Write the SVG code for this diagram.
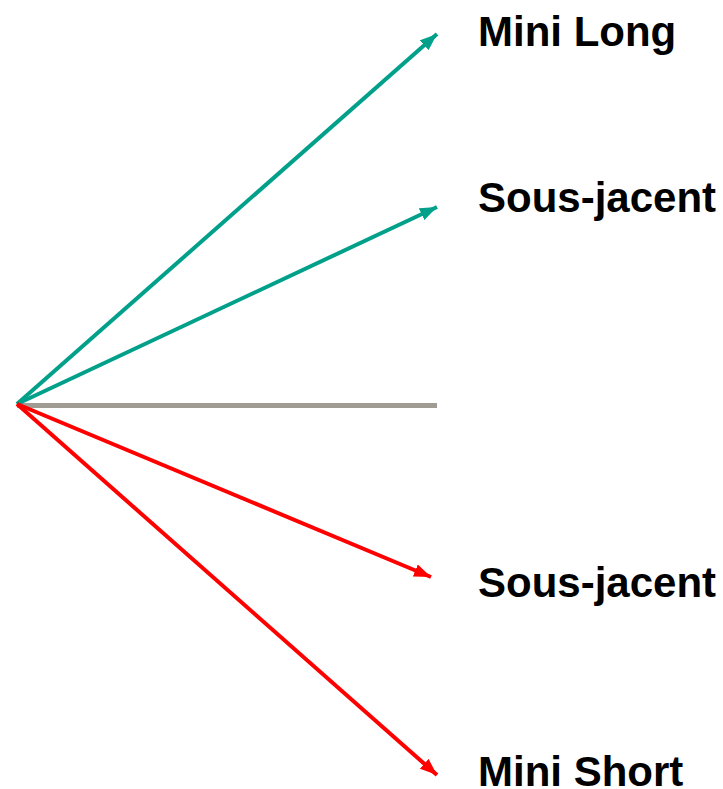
<svg xmlns="http://www.w3.org/2000/svg" width="723" height="789" viewBox="0 0 723 789">
<defs>
<marker id="ah-teal" viewBox="0 0 17 13" refX="17" refY="6.5" markerWidth="17" markerHeight="13" markerUnits="userSpaceOnUse" orient="auto"><path d="M0,0 L17,6.5 L0,13 Z" fill="#00A08A"/></marker>
<marker id="ah-red" viewBox="0 0 17 13" refX="17" refY="6.5" markerWidth="17" markerHeight="13" markerUnits="userSpaceOnUse" orient="auto"><path d="M0,0 L17,6.5 L0,13 Z" fill="#FF0000"/></marker>
</defs>
<style>
.lbl{font-family:"Liberation Sans",Arial,sans-serif;font-weight:bold;font-size:42px;fill:#000}
.teal{stroke:#00A08A;stroke-width:4;fill:none;marker-end:url(#ah-teal)}
.red{stroke:#FF0000;stroke-width:4;fill:none;marker-end:url(#ah-red)}
</style>
<rect width="723" height="789" fill="#fff"/>
<g id="connectors">
<line x1="17" y1="405.5" x2="437" y2="405.5" stroke="#A09C94" stroke-width="5"/>
<line class="teal" x1="17" y1="404" x2="437" y2="34"/>
<line class="teal" x1="17" y1="404" x2="437" y2="207"/>
<line class="red" x1="17" y1="404" x2="431" y2="577"/>
<line class="red" x1="17" y1="404" x2="437" y2="775"/>
</g>
<g id="mini-long"><text class="lbl" x="478" y="46">Mini Long</text></g>
<g id="sous-jacent-top"><text class="lbl" x="478" y="212">Sous-jacent</text></g>
<g id="sous-jacent-bottom"><text class="lbl" x="478" y="597">Sous-jacent</text></g>
<g id="mini-short"><text class="lbl" x="478" y="786">Mini Short</text></g>
</svg>
